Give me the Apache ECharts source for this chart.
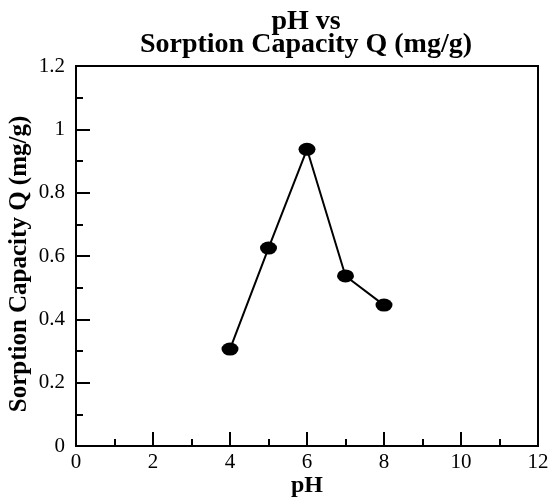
<!DOCTYPE html>
<html><head><meta charset="utf-8">
<script src="https://cdn.jsdelivr.net/npm/echarts@6/dist/echarts.min.js"></script>
<style>html,body{margin:0;padding:0;background:#fff}#c{width:548px;height:500px}</style>
</head><body><div id="c"></div>
<script>
const pHValues = [4, 5, 6, 7, 8];
const capacityQ = [0.306, 0.625, 0.937, 0.537, 0.445];
const titleLines = ['pH vs', 'Sorption Capacity Q (mg/g)'];
const xAxisName = 'pH';
const yAxisName = 'Sorption Capacity Q (mg/g)';

const font = '"Liberation Serif", "Times New Roman", serif';
const chart = echarts.init(document.getElementById('c'), null, {renderer: 'canvas'});
chart.setOption({
  animation: false,
  backgroundColor: '#fff',
  title: {
    text: titleLines.join('\n'),
    left: 301, textAlign: 'center', top: 5,
    textStyle: {fontFamily: font, fontWeight: 'bold', fontSize: 28, lineHeight: 23, color: '#000'}
  },
  grid: {left: 76, right: 10, top: 66, bottom: 54, outerBoundsMode: 'none', containLabel: false,
    show: true, borderColor: '#000', borderWidth: 2, backgroundColor: 'transparent'},
  xAxis: {
    type: 'value', min: 0, max: 12, interval: 2,
    name: xAxisName, nameLocation: 'middle', nameGap: 28, nameMoveOverlap: false,
    nameTextStyle: {fontFamily: font, fontWeight: 'bold', fontSize: 24, color: '#000'},
    axisLine: {show: true, lineStyle: {color: '#000', width: 2}},
    axisTick: {show: true, inside: true, length: 14, lineStyle: {color: '#000', width: 2}},
    minorTick: {show: true, splitNumber: 2, length: 7, lineStyle: {color: '#000', width: 2}},
    splitLine: {show: false},
    axisLabel: {fontFamily: font, fontSize: 21, color: '#000', margin: 6}
  },
  yAxis: {
    type: 'value', min: 0, max: 1.2, interval: 0.2,
    name: yAxisName, nameLocation: 'middle', nameGap: 44, nameMoveOverlap: false,
    nameTextStyle: {fontFamily: font, fontWeight: 'bold', fontSize: 25, color: '#000', padding: [0, 16, 0, 0]},
    axisLine: {show: true, lineStyle: {color: '#000', width: 2}},
    axisTick: {show: true, inside: true, length: 14, lineStyle: {color: '#000', width: 2}},
    minorTick: {show: true, splitNumber: 2, length: 7, lineStyle: {color: '#000', width: 2}},
    splitLine: {show: false},
    axisLabel: {fontFamily: font, fontSize: 21, color: '#000', margin: 11,
      formatter: v => String(Math.round(v * 10) / 10)}
  },
  series: [{
    type: 'line',
    data: pHValues.map((x, i) => [x, capacityQ[i]]),
    symbol: 'circle', symbolSize: [17, 13],
    itemStyle: {color: '#000'},
    lineStyle: {color: '#000', width: 2}
  }]
});
</script></body></html>
